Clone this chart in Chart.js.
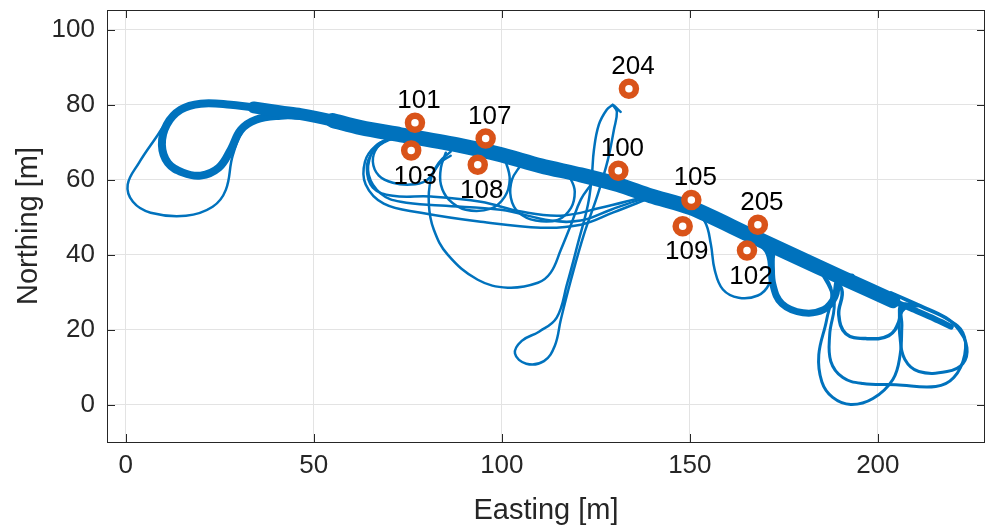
<!DOCTYPE html>
<html>
<head>
<meta charset="utf-8">
<script src="https://cdn.jsdelivr.net/npm/chart.js@4.4.1/dist/chart.umd.min.js"></script>
<style>
  html, body { margin: 0; padding: 0; background: #fff; overflow: hidden; }
  #wrap { position: relative; width: 987px; height: 528px; }
  canvas { display: block; }
</style>
</head>
<body>
<div id="wrap"><canvas id="chart"></canvas></div>
<script>
// tick values
const xTicks = [0, 50, 100, 150, 200];
const yTicks = [0, 20, 40, 60, 80, 100];

// waypoints (Easting, Northing in m)
const markerIds = ["100", "101", "102", "103", "105", "107", "108", "109", "204", "205"];
const markerEast = [131.0, 76.9, 165.2, 75.9, 150.4, 95.7, 93.6, 148.1, 133.8, 168.1];
const markerNorth = [62.4, 75.2, 41.1, 67.8, 54.6, 71.0, 64.0, 47.6, 84.3, 48.0];

// trajectory pieces [Easting, Northing]
const bandCore = [[55.0, 75.8], [62.5, 73.9], [73.1, 72.0], [89.1, 69.1], [99.7, 66.7],
  [110.4, 63.7], [121.0, 61.3], [130.9, 58.7], [139.6, 55.7], [150.3, 52.5], [166.2, 45.1],
  [184.0, 36.8], [197.0, 30.9], [204.0, 27.7]];
const bandMid = [[34.0, 79.3], [41.2, 78.2], [46.5, 77.5], [55.0, 75.8], [62.5, 74.0]];
const bandRight = [[196.0, 31.3], [201.6, 28.8], [208.8, 25.6], [215.0, 22.9], [219.4, 20.8]];
const leftInnerLoop = [[46.5, 77.3], [35.9, 79.0], [27.9, 80.0], [19.9, 80.3], [14.6, 78.7], [10.9, 74.7],
  [9.6, 69.3], [11.2, 64.5], [15.2, 61.9], [19.9, 61.1], [24.7, 63.2], [27.9, 68.0], [30.6, 73.3],
  [34.6, 76.0], [41.2, 77.1], [46.5, 77.1]];
const leftOuterLoop = [[46.5, 77.9], [36.4, 76.3], [31.9, 74.1], [28.5, 66.7], [26.6, 57.3], [23.1, 52.8],
  [16.0, 50.4], [6.6, 51.2], [1.9, 54.1], [0.5, 58.7], [3.5, 64.5], [8.0, 71.2], [11.4, 76.0],
  [16.0, 79.2], [22.6, 80.5], [33.2, 79.7], [46.5, 78.4]];
const loop103Small = [[73.1, 71.7], [69.9, 70.9], [66.8, 68.5], [65.7, 64.8], [67.3, 61.1], [71.0, 59.2],
  [75.8, 58.7], [79.8, 59.7], [81.9, 62.1], [83.8, 64.8], [86.4, 66.4]];
const loop103Mid = [[72.6, 71.5], [68.9, 70.1], [65.7, 67.5], [64.1, 63.2], [65.7, 57.9], [71.0, 55.7],
  [81.1, 55.5], [94.4, 54.1], [105.1, 51.5], [115.7, 50.4], [126.3, 52.5], [137.0, 55.2]];
const loop103Wide = [[71.8, 71.5], [67.8, 69.9], [65.2, 66.7], [64.6, 61.3], [67.8, 56.3], [73.1, 54.1],
  [83.8, 53.1], [99.7, 52.0], [113.0, 49.1], [121.0, 49.1], [129.0, 52.0], [137.0, 54.7], [143.6, 56.0]];
const loop103Low = [[71.0, 71.2], [66.5, 69.1], [63.6, 64.8], [63.8, 58.7], [68.6, 53.6], [78.5, 51.2],
  [94.4, 48.8], [110.4, 47.2], [121.0, 48.0], [129.5, 51.2], [139.6, 55.2]];
const bigCircle = [[86.4, 67.5], [83.2, 64.5], [81.1, 60.0], [80.6, 53.3], [81.9, 46.7], [85.6, 40.0],
  [93.6, 33.3], [101.6, 31.2], [109.6, 32.5], [113.0, 35.2], [115.7, 41.3], [118.4, 48.0],
  [121.0, 54.7], [123.7, 58.7]];
const hairpinSpike = [[129.5, 80.0], [127.9, 78.7], [125.8, 74.7], [124.5, 68.0], [123.9, 60.5], [122.9, 53.3],
  [120.5, 44.0], [117.3, 32.0], [114.6, 23.2], [110.0, 19.5], [105.3, 17.0], [103.5, 13.6],
  [106.5, 10.9], [111.2, 11.6], [114.1, 15.7], [115.7, 22.7], [118.4, 33.3], [121.8, 45.3],
  [125.5, 56.0], [128.2, 65.3], [129.8, 73.3], [130.6, 78.1], [129.5, 80.0], [131.6, 78.1]];
const loop108 = [[85.1, 67.2], [83.8, 63.2], [83.8, 58.7], [85.9, 54.7], [90.4, 52.0], [97.1, 52.3],
  [100.8, 55.5], [102.1, 60.0], [101.1, 64.5], [99.7, 66.7]];
const loop115 = [[105.1, 64.0], [102.7, 60.0], [102.4, 55.2], [104.5, 51.2], [109.0, 49.1], [114.9, 49.3],
  [118.4, 52.5], [119.4, 56.8], [118.4, 60.0], [116.2, 62.7]];
const loop109 = [[150.3, 52.5], [154.0, 48.8], [155.6, 42.7], [156.6, 36.0], [158.8, 30.7], [163.0, 28.5],
  [168.1, 29.1], [171.0, 32.0], [172.1, 37.3], [172.9, 41.3], [175.5, 41.9]];
const loop180 = [[166.5, 45.0], [171.0, 40.5], [172.1, 32.0], [174.5, 26.9], [180.1, 24.5], [185.6, 25.3],
  [188.6, 28.8], [189.8, 33.5], [193.0, 34.0]];
const loop197 = [[186.0, 36.3], [190.4, 30.7], [189.6, 24.0], [191.5, 18.9], [196.8, 17.6], [202.9, 18.4],
  [205.6, 22.1], [206.2, 26.5], [210.0, 26.5]];
const loopDeep = [[182.0, 38.0], [187.5, 31.2], [186.4, 22.7], [184.3, 13.3], [185.1, 6.1], [188.0, 1.9],
  [192.8, 0.0], [198.7, 1.6], [204.0, 6.7], [205.9, 13.1], [206.4, 21.1], [206.5, 26.0], [210.5, 26.3]];
const loopWide = [[184.0, 37.0], [188.3, 28.0], [187.2, 18.7], [187.5, 11.5], [190.7, 7.2], [196.0, 5.6],
  [204.8, 5.3], [215.4, 4.8], [220.2, 7.2], [223.1, 13.3], [222.6, 19.2], [218.6, 22.7],
  [211.4, 26.1], [204.8, 29.1]];
const loopEnd = [[203.5, 29.9], [211.4, 26.4], [218.1, 23.2], [221.5, 20.0], [223.7, 15.2], [222.6, 10.9],
  [218.4, 8.8], [210.9, 8.8], [207.2, 12.0], [205.9, 17.9], [206.0, 24.0], [208.5, 27.0]];

const BLUE = "#0072BD";
const ORANGE = "#D95319";
const INK = "#262626";
const FONT = "'Liberation Sans', Arial, Helvetica, sans-serif";

const toXY = arr => arr.map(p => ({ x: p[0], y: p[1] }));
const pathSet = (arr, width, tension) => ({
  type: "line",
  data: toXY(arr),
  borderColor: BLUE,
  borderWidth: width,
  pointRadius: 0,
  tension: tension === undefined ? 0.4 : tension,
  fill: false,
  borderCapStyle: "round",
  borderJoinStyle: "round"
});

const below = new Set(["102", "103", "108", "109"]);

const markerLabels = {
  id: "markerLabels",
  afterDatasetsDraw(chart) {
    const ctx = chart.ctx;
    const meta = chart.getDatasetMeta(0);
    ctx.save();
    ctx.font = "26px " + FONT;
    ctx.fillStyle = "#000";
    ctx.textAlign = "center";
    ctx.textBaseline = "middle";
    meta.data.forEach((pt, i) => {
      const id = markerIds[i];
      const dy = below.has(id) ? 26 : -22;
      ctx.fillText(id, pt.x + 4, pt.y + dy);
    });
    ctx.restore();
  }
};

// box, inward tick marks and tick labels (matlab style)
const axesBox = {
  id: "axesBox",
  afterDraw(chart) {
    const { ctx, chartArea: a, scales } = chart;
    ctx.save();
    ctx.strokeStyle = INK;
    ctx.lineWidth = 1;
    ctx.beginPath();
    xTicks.forEach(v => {
      const px = Math.round(scales.x.getPixelForValue(v)) + 0.5;
      ctx.moveTo(px, a.bottom); ctx.lineTo(px, a.bottom - 8);
      ctx.moveTo(px, a.top); ctx.lineTo(px, a.top + 8);
    });
    yTicks.forEach(v => {
      const py = Math.round(scales.y.getPixelForValue(v)) + 0.5;
      ctx.moveTo(a.left, py); ctx.lineTo(a.left + 8, py);
      ctx.moveTo(a.right, py); ctx.lineTo(a.right - 8, py);
    });
    ctx.stroke();
    ctx.strokeRect(Math.round(a.left) + 0.5, Math.round(a.top) + 0.5,
      Math.round(a.right - a.left) - 1, Math.round(a.bottom - a.top));

    ctx.fillStyle = INK;
    ctx.font = "26px " + FONT;
    ctx.textBaseline = "middle";
    ctx.textAlign = "center";
    xTicks.forEach(v => ctx.fillText(String(v), scales.x.getPixelForValue(v), a.bottom + 24));
    ctx.textAlign = "right";
    yTicks.forEach(v => ctx.fillText(String(v), a.left - 12, scales.y.getPixelForValue(v)));
    ctx.restore();
  }
};

new Chart(document.getElementById("chart").getContext("2d"), {
  type: "scatter",
  data: {
    datasets: [
      {
        type: "scatter",
        data: markerEast.map((x, i) => ({ x: x, y: markerNorth[i] })),
        pointStyle: "circle",
        pointRadius: 7,
        borderWidth: 6.5,
        borderColor: ORANGE,
        backgroundColor: "#fff",
        showLine: false
      },
      pathSet(bandCore, 15, 0.3),
      pathSet(bandMid, 12, 0.3),
      pathSet(bandRight, 6, 0.3),
      pathSet(leftInnerLoop, 8),
      pathSet(leftOuterLoop, 2.5),
      pathSet(loop103Small, 2.5),
      pathSet(loop103Mid, 2.5),
      pathSet(loop103Wide, 2.5),
      pathSet(loop103Low, 2.5),
      pathSet(bigCircle, 2.5),
      pathSet(hairpinSpike, 2.5),
      pathSet(loop108, 2.5),
      pathSet(loop115, 2.5),
      pathSet(loop109, 2.5),
      pathSet(loop180, 7),
      pathSet(loop197, 3.5),
      pathSet(loopDeep, 3),
      pathSet(loopWide, 3),
      pathSet(loopEnd, 3)
    ]
  },
  options: {
    responsive: true,
    maintainAspectRatio: false,
    animation: false,
    devicePixelRatio: 1,
    layout: { autoPadding: false, padding: { top: 10, right: 2, left: 0, bottom: 0 } },
    plugins: { legend: { display: false }, tooltip: { enabled: false } },
    scales: {
      x: {
        type: "linear",
        min: -5,
        max: 228.5,
        afterBuildTicks: s => { s.ticks = xTicks.map(v => ({ value: v })); },
        afterFit: s => { s.height = 86; },
        ticks: { display: false },
        grid: { color: "#e3e3e3", drawTicks: false, lineWidth: 1 },
        border: { display: false },
        title: { display: true, text: "Easting [m]", color: INK, font: { size: 29, family: FONT }, padding: 0 }
      },
      y: {
        type: "linear",
        min: -10,
        max: 105.3,
        afterBuildTicks: s => { s.ticks = yTicks.map(v => ({ value: v })); },
        afterFit: s => { s.width = 107; },
        ticks: { display: false },
        grid: { color: "#e3e3e3", drawTicks: false, lineWidth: 1 },
        border: { display: false },
        title: { display: true, text: "Northing [m]", color: INK, font: { size: 29, family: FONT }, padding: { top: 12, bottom: 0 } }
      }
    }
  },
  plugins: [markerLabels, axesBox]
});
</script>
</body>
</html>
